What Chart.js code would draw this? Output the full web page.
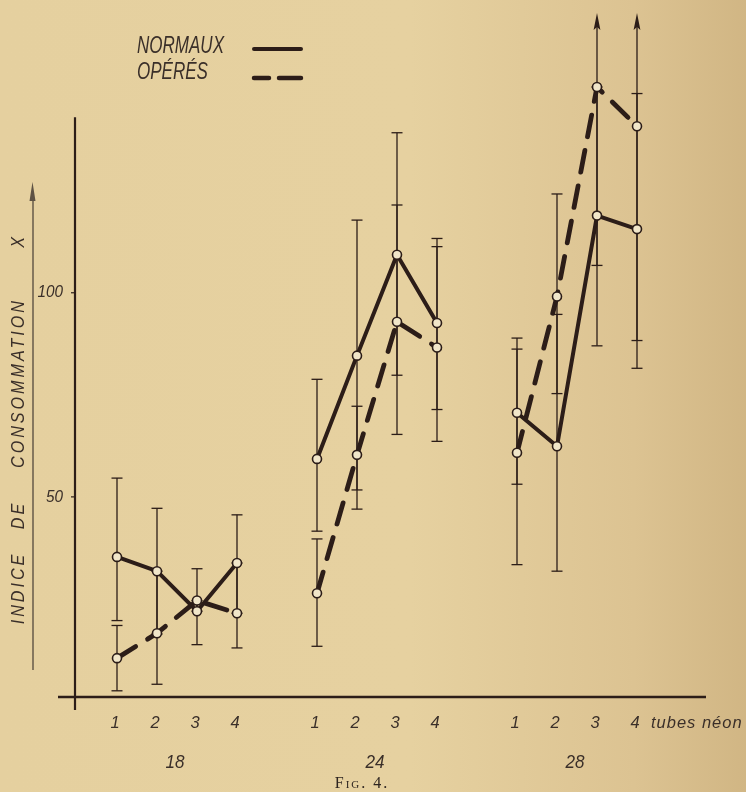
<!DOCTYPE html>
<html><head><meta charset="utf-8">
<script src="https://cdn.jsdelivr.net/npm/chart.js@4/dist/chart.umd.min.js"></script>
<style>
html,body{margin:0;padding:0;width:746px;height:792px;overflow:hidden;
background:linear-gradient(to right,#e5d09f 0%,#e6d1a0 55%,#dcc392 85%,#d1b684 100%);}
canvas{display:block}
</style></head><body>
<canvas id="c" width="746" height="792"></canvas>
<script>
// ---- data ----
const groups = ['18', '24', '28'];
const tubeLabels = ['1', '2', '3', '4'];
const unitLabel = 'tubes néon';
const normaux     = [35.3, 31.8, 22.0, 33.8, 59.3, 84.6, 109.3, 92.6, 70.6, 62.4, 118.9, 115.6];
const operes      = [10.5, 16.6, 24.6, 21.5, 26.4, 60.3, 92.9, 86.6, 60.8, 99.1, 150.4, 140.8];
const normauxLow  = [19.7, 16.4, 13.8, 21.5, 41.6, 51.7, 79.8, 71.4, 53.1, 31.8, 87.0, 81.5];
const normauxHigh = [54.6, 47.2, 24.6, 45.6, 78.8, 117.8, 139.2, 113.3, 88.9, 94.7, 150.4, 148.8];
const operesLow   = [2.5, 4.1, 22.0, 13.0, 13.4, 47.0, 65.3, 63.6, 33.4, 75.3, 106.7, 88.3];
const operesHigh  = [18.5, 31.8, 32.4, 33.8, 39.7, 72.2, 121.5, 111.3, 86.2, 124.2, 195, 195];
const yTicks = [50, 100];
const yTitleWords = ['INDICE', 'DE', 'CONSOMMATION', 'X'];
const legendLabels = ['NORMAUX', 'OPÉRÉS'];
const caption = 'Fig. 4.';

const INK = '#2c1d18';
const TXT = '#3a2f29';

function xPos(gi, ti) { return gi * 5 + ti; }
function series(vals) {
  const out = [];
  groups.forEach((g, gi) => {
    if (gi > 0) out.push({x: gi * 5 - 1, y: null});
    tubeLabels.forEach((t, ti) => out.push({x: xPos(gi, ti), y: vals[gi * 4 + ti]}));
  });
  return out;
}

function txt(ctx, s, x, y, o) {
  ctx.save();
  ctx.translate(x, y);
  if (o.rot) ctx.rotate(o.rot);
  ctx.scale(o.sx || 1, 1);
  ctx.font = o.font;
  ctx.fillStyle = o.color || TXT;
  ctx.textAlign = o.align || 'center';
  ctx.textBaseline = o.baseline || 'alphabetic';
  ctx.letterSpacing = (o.spacing || 0) + 'px';
  ctx.fillText(s, 0, 0);
  ctx.restore();
}

const errorBars = {
  id: 'errorBars',
  beforeDatasetsDraw(chart) {
    const {ctx, chartArea: a, scales: {x, y}} = chart;
    ctx.save();
    ctx.strokeStyle = INK; ctx.fillStyle = INK; ctx.lineWidth = 1.3;
    const sets = [[normauxLow, normauxHigh], [operesLow, operesHigh]];
    groups.forEach((g, gi) => tubeLabels.forEach((t, ti) => {
      const i = gi * 4 + ti, px = x.getPixelForValue(xPos(gi, ti));
      sets.forEach(([lo, hi]) => {
        const yl = y.getPixelForValue(lo[i]);
        const over = hi[i] > y.max;
        const yh = over ? a.top + 6 : y.getPixelForValue(hi[i]);
        ctx.beginPath(); ctx.moveTo(px, yl); ctx.lineTo(px, over ? yh + 10 : yh); ctx.stroke();
        ctx.beginPath(); ctx.moveTo(px - 5.5, yl); ctx.lineTo(px + 5.5, yl); ctx.stroke();
        if (over) {
          ctx.beginPath(); ctx.moveTo(px, yh); ctx.lineTo(px - 3.4, yh + 17);
          ctx.lineTo(px, yh + 14); ctx.lineTo(px + 3.4, yh + 17); ctx.closePath(); ctx.fill();
        } else {
          ctx.beginPath(); ctx.moveTo(px - 5.5, yh); ctx.lineTo(px + 5.5, yh); ctx.stroke();
        }
      });
    }));
    ctx.restore();
  }
};

const decor = {
  id: 'decor',
  afterDraw(chart) {
    const {ctx, chartArea: a, scales: {x, y}} = chart;
    ctx.save();
    ctx.strokeStyle = INK; ctx.lineCap = 'butt';
    // y axis
    ctx.lineWidth = 2.2;
    ctx.beginPath(); ctx.moveTo(a.left, y.getPixelForValue(143)); ctx.lineTo(a.left, a.bottom + 9); ctx.stroke();
    // x axis
    const xAxisY = a.bottom - 4;
    ctx.lineWidth = 2.5;
    ctx.beginPath(); ctx.moveTo(a.left - 17, xAxisY); ctx.lineTo(a.right, xAxisY); ctx.stroke();
    // y ticks
    ctx.lineWidth = 1.2;
    yTicks.forEach(v => {
      const py = y.getPixelForValue(v);
      ctx.beginPath(); ctx.moveTo(a.left - 4, py); ctx.lineTo(a.left, py); ctx.stroke();
      txt(ctx, String(v), a.left - 12, py, {font: 'italic 17px "Liberation Sans"', align: 'right', baseline: 'middle', sx: 0.9});
    });
    // x labels
    groups.forEach((g, gi) => {
      tubeLabels.forEach((t, ti) => {
        txt(ctx, t, x.getPixelForValue(xPos(gi, ti)) - 2, xAxisY + 31, {font: 'italic 16.5px "Liberation Sans"'});
      });
      const mid = x.getPixelForValue(xPos(gi, 1.5));
      txt(ctx, g, mid - 2, xAxisY + 71, {font: 'italic 18px "Liberation Sans"', sx: 0.95});
    });
    txt(ctx, unitLabel, x.getPixelForValue(xPos(2, 3)) + 14, xAxisY + 31,
        {font: 'italic 16.5px "Liberation Sans"', align: 'left', spacing: 1});
    // legend
    const lx = 137;
    txt(ctx, legendLabels[0], lx, 53, {font: 'italic 23px "Liberation Sans"', align: 'left', sx: 0.74});
    txt(ctx, legendLabels[1], lx, 79, {font: 'italic 23px "Liberation Sans"', align: 'left', sx: 0.74});
    ctx.lineWidth = 4; ctx.lineCap = 'round';
    ctx.beginPath(); ctx.moveTo(254, 49); ctx.lineTo(301, 49); ctx.stroke();
    ctx.lineWidth = 4.5;
    ctx.beginPath(); ctx.moveTo(254, 78); ctx.lineTo(269, 78); ctx.moveTo(279, 78); ctx.lineTo(301, 78); ctx.stroke();
    // y title + arrow line
    ctx.lineCap = 'butt';
    ctx.strokeStyle = '#5e5244'; ctx.fillStyle = '#5e5244'; ctx.lineWidth = 1.4;
    ctx.beginPath(); ctx.moveTo(33, 195); ctx.lineTo(33, 670); ctx.stroke();
    ctx.beginPath(); ctx.moveTo(32.5, 182); ctx.lineTo(29.5, 201); ctx.lineTo(35.5, 201); ctx.closePath(); ctx.fill();
    const tf = {font: 'italic 19px "Liberation Sans"', rot: -Math.PI / 2, sx: 0.85, spacing: 3.5, baseline: 'middle'};
    const centers = [588, 515, 383, 241];
    yTitleWords.forEach((w, i) => txt(ctx, w, 19, centers[i], tf));
    // caption
    txt(ctx, caption, 362, 788, {font: 'small-caps 16px "Liberation Serif"', spacing: 2, color: '#2e2520'});
    ctx.restore();
  }
};

new Chart(document.getElementById('c'), {
  type: 'line',
  data: {
    datasets: [
      {label: legendLabels[0], data: series(normaux), borderColor: INK, borderWidth: 4,
       borderCapStyle: 'round', borderJoinStyle: 'round', tension: 0, spanGaps: false,
       pointRadius: 4.5, pointBorderWidth: 1.6, pointBorderColor: INK, pointBackgroundColor: '#f1e6c9'},
      {label: legendLabels[1], data: series(operes), borderColor: INK, borderWidth: 4.8,
       borderDash: [22, 14], borderCapStyle: 'round', borderJoinStyle: 'round', tension: 0, spanGaps: false,
       pointRadius: 4.5, pointBorderWidth: 1.6, pointBorderColor: INK, pointBackgroundColor: '#f1e6c9'}
    ]
  },
  options: {
    responsive: false, animation: false, devicePixelRatio: 1,
    layout: {padding: {left: 75, right: 40, top: 7, bottom: 91}},
    scales: {
      x: {type: 'linear', min: -1.05, max: 14.725, display: false},
      y: {min: 0, max: 170, display: false}
    },
    plugins: {legend: {display: false}, tooltip: {enabled: false}}
  },
  plugins: [errorBars, decor]
});
</script>
</body></html>
